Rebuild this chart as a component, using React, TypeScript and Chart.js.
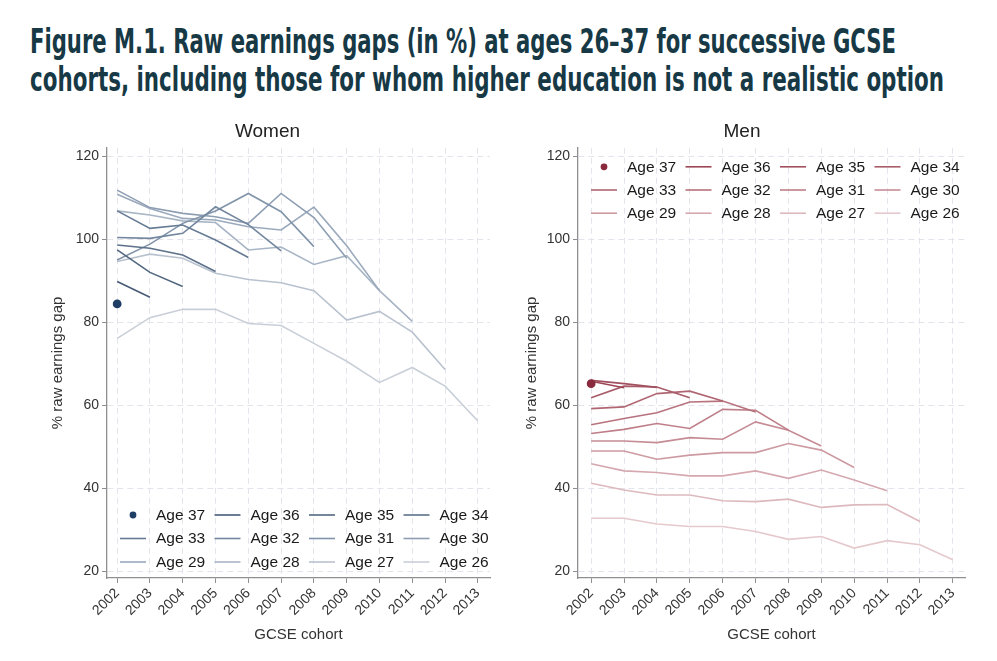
import React, { useEffect, useRef } from "react";
import { Chart, registerables } from "chart.js";

Chart.register(...registerables);

// ---------- data ----------
const cohorts = [2002, 2003, 2004, 2005, 2006, 2007, 2008, 2009, 2010, 2011, 2012, 2013];
const ages = [37, 36, 35, 34, 33, 32, 31, 30, 29, 28, 27, 26];
const yTicks = [20, 40, 60, 80, 100, 120];

const women37 = [84.4];
const women36 = [89.8, 86.0];
const women35 = [97.4, 92.0, 88.6];
const women34 = [98.6, 97.8, 96.2, 92.2];
const women33 = [106.8, 102.6, 103.4, 99.8, 95.6];
const women32 = [100.4, 100.2, 101.4, 107.8, 103.5, 97.2];
const women31 = [95.0, 98.8, 103.8, 106.8, 111.0, 106.6, 98.2];
const women30 = [111.8, 107.6, 106.2, 105.4, 103.8, 111.0, 105.2, 95.4];
const women29 = [110.8, 107.4, 105.0, 104.6, 103.0, 102.2, 107.7, 98.4, 87.6];
const women28 = [106.8, 105.8, 104.4, 104.0, 97.4, 98.1, 93.9, 96.0, 87.6, 80.2];
const women27 = [94.6, 96.4, 95.4, 91.8, 90.3, 89.5, 87.6, 80.5, 82.6, 77.6, 68.6];
const women26 = [76.1, 81.1, 83.1, 83.1, 79.7, 79.2, 74.9, 70.6, 65.5, 69.1, 64.6, 56.2];

const men37 = [65.2];
const men36 = [65.8, 64.2];
const men35 = [66.0, 65.2, 64.3];
const men34 = [61.8, 64.6, 64.4, 61.8];
const men33 = [59.2, 59.6, 62.8, 63.4, 61.0];
const men32 = [55.3, 56.8, 58.2, 60.8, 61.0, 58.4];
const men31 = [53.2, 54.2, 55.6, 54.4, 59.0, 58.8, 54.0];
const men30 = [51.4, 51.4, 51.0, 52.2, 51.8, 56.0, 54.0, 50.2];
const men29 = [49.0, 49.0, 47.0, 48.0, 48.6, 48.6, 50.8, 49.2, 45.0];
const men28 = [45.9, 44.2, 43.8, 43.0, 43.0, 44.2, 42.4, 44.4, 42.0, 39.4];
const men27 = [41.2, 39.6, 38.4, 38.4, 37.0, 36.8, 37.4, 35.4, 36.0, 36.1, 32.0];
const men26 = [32.8, 32.8, 31.4, 30.8, 30.8, 29.6, 27.7, 28.4, 25.6, 27.4, 26.4, 22.8];

const womenSeries = [women37, women36, women35, women34, women33, women32, women31, women30, women29, women28, women27, women26];
const menSeries = [men37, men36, men35, men34, men33, men32, men31, men30, men29, men28, men27, men26];

// ---------- styles ----------
const womenColors = ["#1e3e66", "#475b76", "#52677f", "#5d718a", "#667b94", "#72869e", "#8194aa", "#8d9eb3", "#9aa9bc", "#a8b5c5", "#b9c2cf", "#c9cfd8"];
const menColors = ["#8a2a3e", "#9b4555", "#a2505f", "#a85b69", "#b06672", "#b7727d", "#bf7f89", "#c68c95", "#cd9aa2", "#d5a8af", "#ddb9be", "#e5c9cd"];

const FONT = '"Liberation Sans", Arial, sans-serif';

const insideLegend = {
  id: "insideLegend",
  afterDatasetsDraw(chart: any, _args: any, opts: any) {
    const { ctx, chartArea } = chart;
    const ds = chart.data.datasets;
    ctx.save();
    ctx.font = `15.5px ${FONT}`;
    ctx.textBaseline = "middle";
    ctx.textAlign = "left";
    ds.forEach((d: any, i: number) => {
      const col = i % 4;
      const row = Math.floor(i / 4);
      const y = opts.bottom
        ? chartArea.bottom - 63 + row * 23.5
        : chartArea.top + 19 + row * 23.2;
      const x0 = chartArea.left + 13 + col * 94.5;
      if (d.showLine === false) {
        ctx.fillStyle = d.borderColor;
        ctx.beginPath();
        ctx.arc(x0 + 13, y, 3.4, 0, Math.PI * 2);
        ctx.fill();
      } else {
        ctx.strokeStyle = d.borderColor;
        ctx.lineWidth = 1.6;
        ctx.beginPath();
        ctx.moveTo(x0, y);
        ctx.lineTo(x0 + 26, y);
        ctx.stroke();
      }
      ctx.fillStyle = "#1a1a1a";
      ctx.fillText(d.label, x0 + 36, y + 0.5);
    });
    ctx.restore();
  },
};

type PanelProps = {
  title: string;
  series: number[][];
  colors: string[];
  legendBottom: boolean;
  left: number;
  width: number;
  padLeft: number;
  yWidth: number;
  xMin: number;
  xMax: number;
};

function Panel(p: PanelProps) {
  const ref = useRef<HTMLCanvasElement | null>(null);
  useEffect(() => {
    if (!ref.current) return;
    const gridColor = "#e4e4ec";
    const axisColor = "#8f8f8f";
    const chart = new Chart(ref.current, {
      type: "line",
      data: {
        datasets: p.series.map((vals, i) => ({
          label: `Age ${ages[i]}`,
          data: vals.map((v, j) => ({ x: cohorts[j], y: v })),
          borderColor: p.colors[i],
          backgroundColor: p.colors[i],
          borderWidth: 1.6,
          pointRadius: vals.length === 1 ? 3.6 : 0,
          pointHoverRadius: 0,
          showLine: vals.length > 1,
          tension: 0,
        })),
      },
      options: {
        responsive: false,
        animation: false,
        devicePixelRatio: 1,
        layout: { padding: { left: p.padLeft, right: 10, top: 0, bottom: 0 } },
        plugins: {
          legend: { display: false },
          tooltip: { enabled: false },
          title: {
            display: true,
            text: p.title,
            color: "#222",
            font: { family: FONT, size: 19, weight: "normal" },
            padding: { top: 10, bottom: 5 },
          },
          insideLegend: { bottom: p.legendBottom },
        } as any,
        scales: {
          x: {
            type: "linear",
            min: p.xMin,
            max: p.xMax,
            afterBuildTicks: (s: any) => {
              s.ticks = cohorts.map((v) => ({ value: v }));
            },
            afterFit: (s: any) => {
              s.height = 70;
            },
            ticks: {
              minRotation: 45,
              maxRotation: 45,
              autoSkip: false,
              padding: 2,
              color: "#333",
              font: { family: FONT, size: 14 },
              callback: (v: any) => String(v),
            },
            grid: { color: gridColor, tickColor: axisColor, tickLength: 5, lineWidth: 1 },
            border: { display: true, color: axisColor, width: 1.3, dash: [6, 4] },
            title: {
              display: true,
              text: "GCSE cohort",
              color: "#333",
              font: { family: FONT, size: 15 },
              padding: { top: 4, bottom: 4 },
            },
          },
          y: {
            type: "linear",
            min: 18.4,
            max: 122,
            afterBuildTicks: (s: any) => {
              s.ticks = yTicks.map((v) => ({ value: v }));
            },
            afterFit: (s: any) => {
              s.width = p.yWidth;
            },
            ticks: {
              padding: 3,
              color: "#333",
              font: { family: FONT, size: 14 },
            },
            grid: { color: gridColor, tickColor: axisColor, tickLength: 5, lineWidth: 1 },
            border: { display: true, color: axisColor, width: 1.3, dash: [6, 4] },
            title: {
              display: true,
              text: "% raw earnings gap",
              color: "#333",
              font: { family: FONT, size: 15 },
              padding: { top: 4, bottom: 4 },
            },
          },
        },
      } as any,
      plugins: [insideLegend as any],
    });
    return () => chart.destroy();
  }, []);
  return (
    <canvas
      ref={ref}
      width={p.width}
      height={538}
      style={{ position: "absolute", left: p.left, top: 110, width: p.width, height: 538 }}
    />
  );
}

export default function App() {
  return (
    <div style={{ position: "absolute", left: 0, top: 0, width: 997, height: 661, background: "#fff", overflow: "hidden" }}>
      <svg width={997} height={110} style={{ position: "absolute", left: 0, top: 0 }}>
        <text
          x={30}
          y={53}
          textLength={866}
          lengthAdjust="spacingAndGlyphs"
          fill="#173945"
          style={{ fontFamily: '"Liberation Sans Narrow", "DejaVu Sans Condensed", sans-serif', fontWeight: 700, fontSize: 34 }}
        >
          Figure M.1. Raw earnings gaps (in %) at ages 26–37 for successive GCSE
        </text>
        <text
          x={30}
          y={91}
          textLength={914}
          lengthAdjust="spacingAndGlyphs"
          fill="#173945"
          style={{ fontFamily: '"Liberation Sans Narrow", "DejaVu Sans Condensed", sans-serif', fontWeight: 700, fontSize: 34 }}
        >
          cohorts, including those for whom higher education is not a realistic option
        </text>
      </svg>
      <Panel
        title="Women"
        series={womenSeries}
        colors={womenColors}
        legendBottom={true}
        left={0}
        width={500}
        padLeft={45}
        yWidth={62}
        xMin={2001.69}
        xMax={2013.37}
      />
      <Panel
        title="Men"
        series={menSeries}
        colors={menColors}
        legendBottom={false}
        left={500}
        width={475}
        padLeft={19}
        yWidth={59}
        xMin={2001.6}
        xMax={2013.37}
      />
    </div>
  );
}
